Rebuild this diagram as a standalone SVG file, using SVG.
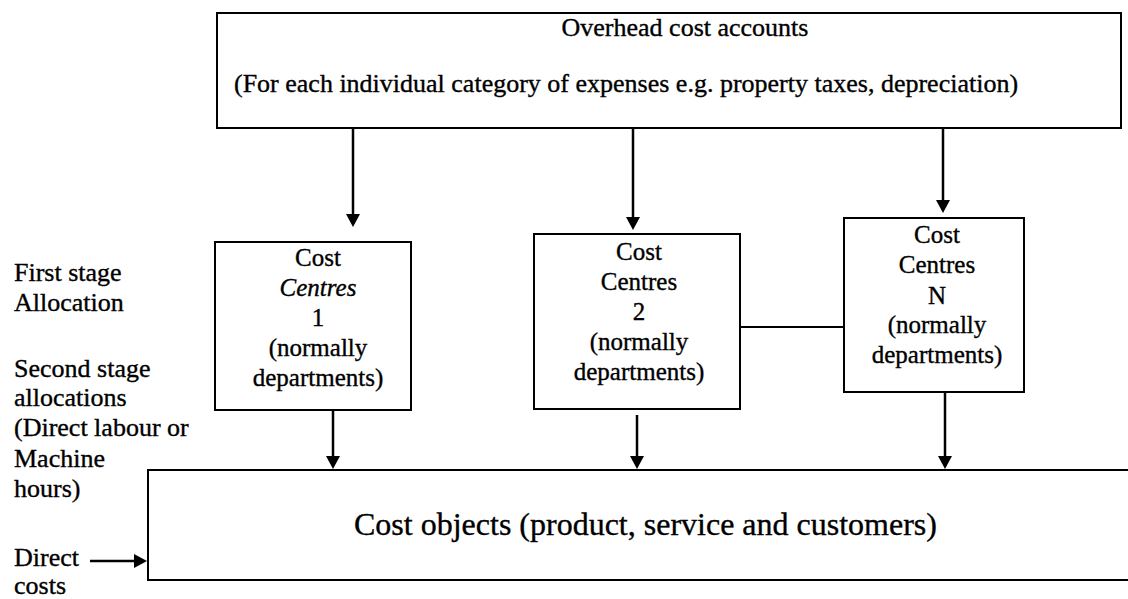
<svg xmlns="http://www.w3.org/2000/svg" width="1128" height="599" viewBox="0 0 1128 599">
  <style>
    text { font-family: "Liberation Serif", "Times New Roman", serif; fill: #000000; stroke: #000000; stroke-width: 0.35px; }
    .box { fill: #ffffff; stroke: #000000; stroke-width: 2; }
    .lbl { font-size: 26px; }
    .ctr { font-size: 25px; text-anchor: middle; }
    .big { font-size: 32px; }
    .arrow { fill: none; stroke: #000000; stroke-width: 2.5; marker-end: url(#head); }
    .link { fill: none; stroke: #000000; stroke-width: 2; }
  </style>
  <defs>
    <marker id="head" viewBox="0 -7 13 14" refX="8" refY="0" markerWidth="13" markerHeight="14" markerUnits="userSpaceOnUse" orient="auto">
      <path d="M0,-7 L13,0 L0,7 Z" fill="#000000"/>
    </marker>
  </defs>
  <rect width="1128" height="599" fill="#ffffff"/>

  <!-- side labels -->
  <g id="side-labels">
    <text class="lbl" x="14" y="281">First stage</text>
    <text class="lbl" x="14" y="311">Allocation</text>
    <text class="lbl" x="14" y="377">Second stage</text>
    <text class="lbl" x="14" y="406">allocations</text>
    <text class="lbl" x="14" y="436">(Direct labour or</text>
    <text class="lbl" x="14" y="467">Machine</text>
    <text class="lbl" x="14" y="497">hours)</text>
    <text class="lbl" x="14" y="566">Direct</text>
    <text class="lbl" x="14" y="594">costs</text>
  </g>

  <!-- overhead accounts -->
  <g id="overhead">
    <rect class="box" x="217" y="13" width="904" height="115"/>
    <text class="lbl" x="685" y="36" text-anchor="middle">Overhead cost accounts</text>
    <text class="lbl" x="234" y="92">(For each individual category of expenses e.g. property taxes, depreciation)</text>
  </g>

  <!-- cost centre 1 -->
  <g id="centre-1">
    <rect class="box" x="215" y="242" width="196" height="168"/>
    <text class="ctr" x="318" y="266">Cost</text>
    <text class="ctr" x="318" y="296" font-style="italic">Centres</text>
    <text class="ctr" x="318" y="326">1</text>
    <text class="ctr" x="318" y="356">(normally</text>
    <text class="ctr" x="318" y="386">departments)</text>
  </g>

  <!-- cost centre 2 -->
  <g id="centre-2">
    <rect class="box" x="534" y="234" width="206" height="175"/>
    <text class="ctr" x="639" y="260">Cost</text>
    <text class="ctr" x="639" y="290">Centres</text>
    <text class="ctr" x="639" y="320">2</text>
    <text class="ctr" x="639" y="350">(normally</text>
    <text class="ctr" x="639" y="380">departments)</text>
  </g>

  <!-- cost centre N -->
  <g id="centre-n">
    <rect class="box" x="844" y="218" width="180" height="174"/>
    <text class="ctr" x="937" y="243">Cost</text>
    <text class="ctr" x="937" y="273">Centres</text>
    <text class="ctr" x="937" y="304">N</text>
    <text class="ctr" x="937" y="333">(normally</text>
    <text class="ctr" x="937" y="363">departments)</text>
  </g>

  <!-- cost objects -->
  <g id="cost-objects">
    <rect class="box" x="148" y="470" width="1000" height="110"/>
    <text class="big" x="354" y="535">Cost objects (product, service and customers)</text>
  </g>

  <!-- connectors -->
  <g id="connectors">
    <line class="arrow" x1="353" y1="128" x2="353" y2="222"/>
    <line class="arrow" x1="633" y1="128" x2="633" y2="225"/>
    <line class="arrow" x1="943" y1="128" x2="943" y2="208"/>
    <line class="arrow" x1="333" y1="410" x2="333" y2="464"/>
    <line class="arrow" x1="637" y1="415" x2="637" y2="464"/>
    <line class="arrow" x1="945" y1="392" x2="945" y2="464"/>
    <line class="arrow" x1="90" y1="561" x2="142" y2="561"/>
    <line class="link" x1="740" y1="327" x2="844" y2="327"/>
  </g>
</svg>
